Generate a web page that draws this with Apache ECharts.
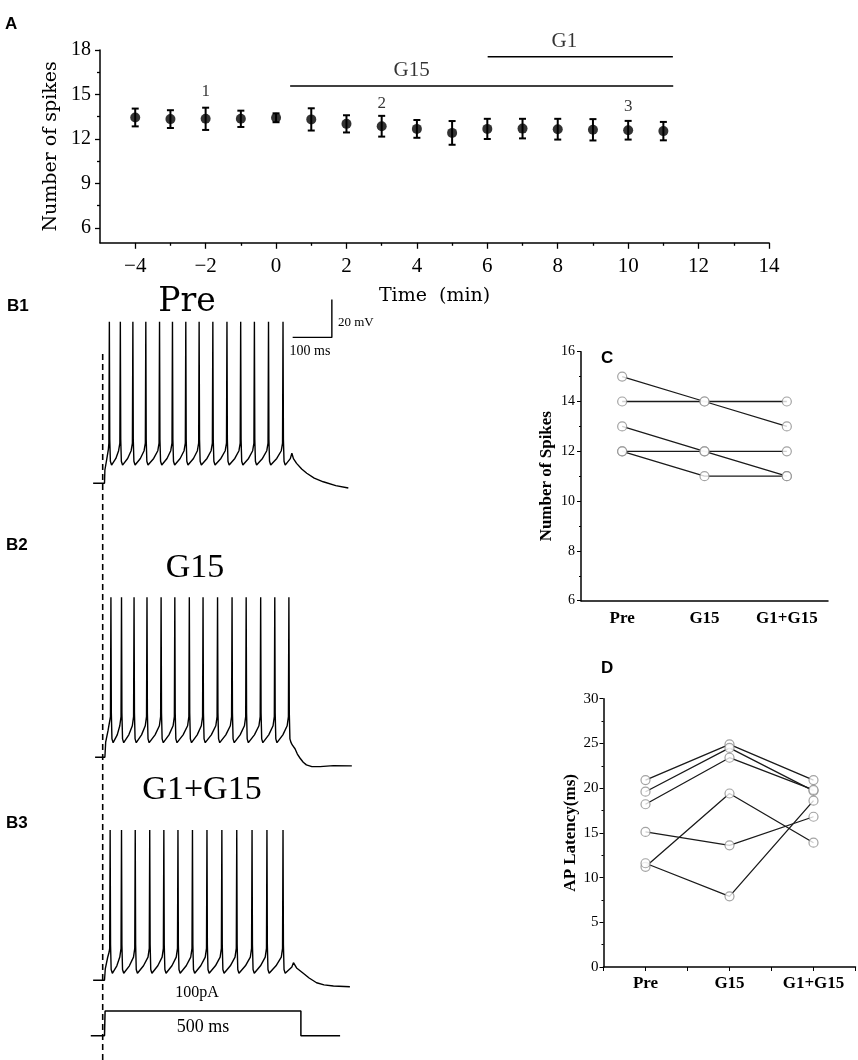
<!DOCTYPE html>
<html>
<head>
<meta charset="utf-8">
<title>G15 / G1 spikes</title>
<script src="https://cdn.jsdelivr.net/npm/echarts@6/dist/echarts.min.js"></script>
<style>
  html, body { margin: 0; padding: 0; background: #fff; }
  #main { width: 858px; height: 1060px; }
</style>
</head>
<body>
<div id="main"></div>
<script>
// ---------------- data ----------------
// A: number of spikes over time (mean, SEM)
var timePoints = [-4, -3, -2, -1, 0, 1, 2, 3, 4, 5, 6, 7, 8, 9, 10, 11];
var spikeMean = [13.45, 13.34, 13.36, 13.36, 13.43, 13.32, 13.02, 12.86, 12.68, 12.41, 12.68, 12.7, 12.66, 12.62, 12.59, 12.53];
var spikeSem = [0.6, 0.6, 0.75, 0.55, 0.3, 0.75, 0.58, 0.7, 0.6, 0.8, 0.68, 0.66, 0.7, 0.72, 0.63, 0.62];
var xTicksA = [-4, -2, 0, 2, 4, 6, 8, 10, 12, 14];
var xMinorA = [-3, -1, 1, 3, 5, 7, 9, 11, 13];
var yTicksA = [6, 9, 12, 15, 18];
var yMinorA = [7.5, 10.5, 13.5, 16.5];
// drug bars (start, end, level) and labels
var g15Bar = [[0.4, 15.57], [11.28, 15.57]];
var g1Bar = [[6.01, 17.55], [11.27, 17.55]];
var annoText = ['1', '2', '3', 'G15', 'G1'];
var annoX = [-2, 3, 10, 3.85, 8.19];
var annoY = [15.2, 14.36, 14.22, 16.62, 18.56];

// C / D: paired cells
var conditions = ['Pre', 'G15', 'G1+G15'];
var spikeCells = [[15, 14, 13], [14, 14, 14], [13, 12, 11], [12, 12, 12], [12, 11, 11]];
var latencyCells = [[20.9, 24.9, 20.9], [19.6, 24.5, 19.7], [18.2, 23.4, 19.8],
                    [15.1, 13.6, 16.8], [11.2, 19.4, 13.9], [11.6, 7.9, 18.6]];

// B: voltage traces, spike times in ms from step onset
var b1Spikes = [12, 40, 72, 105, 140, 173, 207, 241, 276, 312, 347, 382, 418, 455];
var b2Spikes = [16, 43, 75, 108, 144, 179, 216, 251, 288, 325, 361, 398, 434, 470];
var b3Spikes = [14, 43, 78, 115, 151, 187, 224, 261, 299, 337, 376, 414, 455];
// levels in mV: peak, trough (AHP), threshold
var b1Levels = { peak: 15, trough: -60.4, thr: -48.8 };
var b2Levels = { peak: 14.2, trough: -62.3, thr: -48.6 };
var b3Levels = { peak: 9.1, trough: -66.3, thr: -53.2 };
var b1Lead = [[-29, -70], [0, -70], [1, -63], [6, -57], [10, -52]];
var b2Lead = [[-24, -70], [1, -70], [3, -62], [9, -56], [14, -50]];
var b3Lead = [[-29, -70], [0, -70], [2, -64], [8, -58], [12, -55]];
var b1Tail = [[464, -59.5], [474, -57], [478, -54.2], [482, -57], [490, -59.5], [503, -62.5], [516, -64.7], [535, -67.3], [558, -69.2], [590, -71.2], [622, -72.5]];
var b2Tail = [[479, -63.5], [482, -62.5], [486, -65.5], [492, -68.3], [499, -70.5], [507, -72.6], [515, -74], [529, -74.9], [550, -74.9], [584, -74.4], [631, -74.5]];
var b3Tail = [[466, -66.5], [478, -63], [482, -60.7], [490, -63.5], [507, -66.3], [522, -68.8], [541, -71.3], [560, -72.4], [584, -73], [626, -73.4]];
// current step (pA)
var stepPts = [[-35, 0], [0, 0], [1.5, 100], [501, 100], [501, 0], [601, 0]];
var onsetMark = -4.6;
// scale bar: 100 ms, 20 mV
var scaleBar = [[480, 6.8], [580, 6.8], [580, 26.8]];

// ---------------- helpers ----------------
function buildTrace(lead, spikes, lv, tail) {
  var pts = lead.slice();
  spikes.forEach(function (t, i) {
    pts.push([t - 0.8, lv.thr], [t + 0.4, lv.peak], [t + 1.4, lv.thr + 2],
             [t + 3, lv.trough + 2], [t + 6, lv.trough]);
    var tn = spikes[i + 1];
    if (tn !== undefined) {
      pts.push([(t + 6 + tn) / 2, lv.trough + (lv.thr - lv.trough) * 0.3],
               [tn - 4, lv.thr - (lv.thr - lv.trough) * 0.35]);
    }
  });
  return pts.concat(tail);
}
function minusSign(v) { return String(v).replace('-', '\u2212'); }

var serifA = 'Liberation Serif';
var times = 'Liberation Serif';

// trace grids share one ms scale
var tMin = -40, tMax = 640;
var traceLeft = 88.82, traceWidth = 266.56;

var grids = [
  { left: 100, top: 50, width: 669, height: 192.8 },          // 0 A
  { left: 581, top: 351.7, width: 247, height: 249 },          // 1 C
  { left: 603.5, top: 698.7, width: 252, height: 268.3 },      // 2 D
  { left: traceLeft, top: 293.3, width: traceWidth, height: 209 }, // 3 B1
  { left: traceLeft, top: 567.3, width: traceWidth, height: 209 }, // 4 B2
  { left: traceLeft, top: 790.3, width: traceWidth, height: 209 }, // 5 B3
  { left: traceLeft, top: 998.65, width: traceWidth, height: 49.4 }, // 6 step
  { left: traceLeft, top: 351, width: traceWidth, height: 709 }  // 7 dashed onset
].map(function (g) { g.outerBoundsMode = 'none'; g.containLabel = false; return g; });

var black = '#000';
var axisLine = { show: true, onZero: false, lineStyle: { color: black, width: 1.5 } };
var noLine = { show: false, onZero: false };

var xAxes = [
  { gridIndex: 0, type: 'value', position: 'bottom', min: -5, max: 14, axisLine: axisLine,
    axisTick: { show: true, length: 6, customValues: xTicksA, lineStyle: { color: black, width: 1.3 } },
    axisLabel: { customValues: xTicksA, formatter: minusSign, color: black, fontFamily: serifA, fontSize: 21, margin: 13 },
    splitLine: { show: false },
    name: 'Time  (min)', nameLocation: 'middle', nameGap: 44,
    nameTextStyle: { fontFamily: 'DejaVu Serif', fontSize: 19, color: black, verticalAlign: 'top' } },
  { gridIndex: 0, type: 'value', position: 'bottom', offset: 0, min: -5, max: 14, axisLine: noLine,
    axisTick: { show: true, length: 3, customValues: xMinorA, lineStyle: { color: black, width: 1.3 } },
    axisLabel: { show: false }, splitLine: { show: false } },
  { gridIndex: 1, type: 'category', position: 'bottom', data: conditions, boundaryGap: true, axisLine: axisLine,
    axisTick: { length: 4, lineStyle: { color: black } },
    axisLabel: { color: black, fontFamily: times, fontWeight: 'bold', fontSize: 17, margin: 9 } },
  { gridIndex: 2, type: 'value', position: 'bottom', min: 0.5, max: 3.5, interval: 0.5, axisLine: axisLine,
    axisTick: { length: 4, lineStyle: { color: black } },
    axisLabel: { color: black, fontFamily: times, fontWeight: 'bold', fontSize: 17, margin: 8,
      showMinLabel: true, showMaxLabel: true,
      formatter: function (v) { return Number.isInteger(v) ? conditions[v - 1] : ''; } },
    splitLine: { show: false } }
];
for (var gi = 3; gi <= 7; gi++) {
  xAxes.push({ gridIndex: gi, type: 'value', min: tMin, max: tMax, show: false });
}

var yAxes = [
  { gridIndex: 0, type: 'value', min: 5, max: 18, position: 'left', axisLine: axisLine,
    axisTick: { show: true, length: 5, customValues: yTicksA, lineStyle: { color: black, width: 1.3 } },
    axisLabel: { customValues: yTicksA, color: black, fontFamily: serifA, fontSize: 20, margin: 9 },
    splitLine: { show: false },
    name: 'Number of spikes', nameLocation: 'middle', nameGap: 27, nameRotate: 90,
    nameTextStyle: { fontFamily: 'DejaVu Serif', fontSize: 19, color: black } },
  { gridIndex: 0, type: 'value', min: 5, max: 18, position: 'left', offset: 0, axisLine: noLine,
    axisTick: { show: true, length: 3, customValues: yMinorA, lineStyle: { color: black, width: 1.3 } },
    axisLabel: { show: false }, splitLine: { show: false } },
  { gridIndex: 1, type: 'value', position: 'left', min: 6, max: 16, interval: 2, axisLine: axisLine,
    axisTick: { show: true, length: 4, lineStyle: { color: black } },
    minorTick: { show: true, splitNumber: 2, length: 2, lineStyle: { color: black } },
    axisLabel: { color: black, fontFamily: times, fontSize: 14, margin: 6 },
    splitLine: { show: false },
    name: 'Number of Spikes', nameLocation: 'middle', nameGap: 26, nameRotate: 90,
    nameTextStyle: { fontFamily: times, fontWeight: 'bold', fontSize: 17, color: black } },
  { gridIndex: 2, type: 'value', position: 'left', min: 0, max: 30, interval: 5, axisLine: axisLine,
    axisTick: { show: true, length: 4, lineStyle: { color: black } },
    minorTick: { show: true, splitNumber: 2, length: 2, lineStyle: { color: black } },
    axisLabel: { color: black, fontFamily: times, fontSize: 15, margin: 5 },
    splitLine: { show: false },
    name: 'AP Latency(ms)', nameLocation: 'middle', nameGap: 24, nameRotate: 90,
    nameTextStyle: { fontFamily: times, fontWeight: 'bold', fontSize: 17, color: black } },
  { gridIndex: 3, type: 'value', min: -80, max: 30, show: false },
  { gridIndex: 4, type: 'value', min: -80, max: 30, show: false },
  { gridIndex: 5, type: 'value', min: -80, max: 30, show: false },
  { gridIndex: 6, type: 'value', min: -50, max: 150, show: false },
  { gridIndex: 7, type: 'value', min: 0, max: 1, show: false }
];

var series = [];

// ---- A ----
series.push({
  type: 'custom', xAxisIndex: 0, yAxisIndex: 0,
  data: timePoints.map(function (t, i) { return [t, spikeMean[i], spikeSem[i]]; }),
  encode: { x: 0, y: 1 },
  renderItem: function (params, api) {
    var x = api.value(0), m = api.value(1), e = api.value(2);
    var top = api.coord([x, m + e]), bot = api.coord([x, m - e]);
    var w = 3.5, st = { stroke: black, lineWidth: 2 };
    return { type: 'group', children: [
      { type: 'line', shape: { x1: top[0], y1: top[1], x2: bot[0], y2: bot[1] }, style: st },
      { type: 'line', shape: { x1: top[0] - w, y1: top[1], x2: top[0] + w, y2: top[1] }, style: st },
      { type: 'line', shape: { x1: bot[0] - w, y1: bot[1], x2: bot[0] + w, y2: bot[1] }, style: st }
    ] };
  }
});
series.push({
  type: 'scatter', xAxisIndex: 0, yAxisIndex: 0, symbol: 'circle', symbolSize: 10,
  itemStyle: { color: black },
  data: timePoints.map(function (t, i) { return [t, spikeMean[i]]; })
});
[g15Bar, g1Bar].forEach(function (bar) {
  series.push({ type: 'line', xAxisIndex: 0, yAxisIndex: 0, data: bar, showSymbol: false,
    symbol: 'none', lineStyle: { color: black, width: 1.5 } });
});
series.push({
  type: 'scatter', xAxisIndex: 0, yAxisIndex: 0, symbolSize: 1, clip: false,
  itemStyle: { color: 'rgba(0,0,0,0)' },
  label: { show: true, position: 'inside', color: black, fontFamily: serifA,
    formatter: function (p) { return annoText[p.dataIndex]; } },
  data: annoText.map(function (s, i) {
    return { value: [annoX[i], annoY[i]], label: { fontSize: s.length > 1 ? 21 : 17 } };
  })
});

// ---- C ----
spikeCells.forEach(function (cell) {
  series.push({ type: 'line', xAxisIndex: 2, yAxisIndex: 2, data: cell, symbol: 'none',
    lineStyle: { color: '#1a1a1a', width: 1.3 }, z: 2 });
});
series.push({
  type: 'scatter', xAxisIndex: 2, yAxisIndex: 2, symbol: 'circle', symbolSize: 9, z: 3,
  itemStyle: { color: '#fff', borderColor: '#8c8c8c', borderWidth: 1.2 },
  data: spikeCells.reduce(function (acc, cell) {
    return acc.concat(cell.map(function (v, j) { return [j, v]; }));
  }, [])
});

// ---- D ----
latencyCells.forEach(function (cell) {
  series.push({ type: 'line', xAxisIndex: 3, yAxisIndex: 3, symbol: 'none',
    data: cell.map(function (v, j) { return [j + 1, v]; }),
    lineStyle: { color: '#1a1a1a', width: 1.3 }, z: 2 });
});
series.push({
  type: 'scatter', xAxisIndex: 3, yAxisIndex: 3, symbol: 'circle', symbolSize: 9, z: 3,
  itemStyle: { color: '#fff', borderColor: '#8c8c8c', borderWidth: 1.2 },
  data: latencyCells.reduce(function (acc, cell) {
    return acc.concat(cell.map(function (v, j) { return [j + 1, v]; }));
  }, [])
});

// ---- B traces ----
var traces = [
  buildTrace(b1Lead, b1Spikes, b1Levels, b1Tail),
  buildTrace(b2Lead, b2Spikes, b2Levels, b2Tail),
  buildTrace(b3Lead, b3Spikes, b3Levels, b3Tail)
];
traces.forEach(function (pts, k) {
  series.push({ type: 'line', xAxisIndex: 4 + k, yAxisIndex: 4 + k, data: pts, symbol: 'none',
    sampling: false, lineStyle: { color: black, width: 1.4 } });
});
series.push({ type: 'line', xAxisIndex: 4, yAxisIndex: 4, data: scaleBar, symbol: 'none',
  lineStyle: { color: black, width: 1.4 } });
series.push({ type: 'line', xAxisIndex: 7, yAxisIndex: 7, data: stepPts, symbol: 'none',
  lineStyle: { color: black, width: 1.5 } });
series.push({ type: 'line', xAxisIndex: 8, yAxisIndex: 8, data: [[onsetMark, 0], [onsetMark, 1]],
  symbol: 'none', lineStyle: { color: black, width: 1.6, type: [6, 4] } });

// ---- text ----
function txt(x, y, s, font, align) {
  return { type: 'text', x: x, y: y,
    style: { text: s, font: font, fill: black, align: align || 'center', verticalAlign: 'middle' } };
}
var letter = 'bold 17px "Liberation Sans"';
var graphics = [
  txt(5, 24, 'A', letter, 'left'),
  txt(7, 306, 'B1', letter, 'left'),
  txt(6, 545, 'B2', letter, 'left'),
  txt(6, 823, 'B3', letter, 'left'),
  txt(601, 358, 'C', letter, 'left'),
  txt(601, 668, 'D', letter, 'left'),
  txt(187, 302, 'Pre', '33px "DejaVu Serif"'),
  txt(195, 568, 'G15', '34px "Liberation Serif"'),
  txt(202, 790, 'G1+G15', '34px "Liberation Serif"'),
  txt(338, 323, '20 mV', '13px "Liberation Serif"', 'left'),
  txt(310, 351, '100 ms', '14px "Liberation Serif"'),
  txt(197, 993, '100pA', '16px "Liberation Serif"'),
  txt(203, 1027, '500 ms', '18px "Liberation Serif"')
];

var chart = echarts.init(document.getElementById('main'));
chart.setOption({
  animation: false,
  backgroundColor: '#fff',
  grid: grids,
  xAxis: xAxes,
  yAxis: yAxes,
  series: series,
  graphic: graphics
});
</script>
</body>
</html>
